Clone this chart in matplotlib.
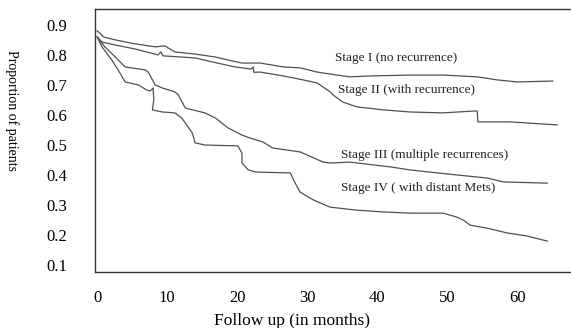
import matplotlib
matplotlib.use("Agg")
import matplotlib.pyplot as plt

plt.rcParams['font.family'] = ['Liberation Serif', 'DejaVu Serif']

# Stage I (no recurrence)
s1_x = [0, 0.4, 0.9, 2.6, 5.4, 8.3, 9.7, 11.1, 14, 16.9, 19.3, 20.7, 23.3, 26.6, 29,
        31.4, 34.3, 36.1, 39, 44.7, 49.4, 54.3, 57.1, 60, 65.1]
s1_y = [0.88, 0.873, 0.86, 0.85, 0.837, 0.827, 0.83, 0.81, 0.803, 0.793, 0.78, 0.773,
        0.773, 0.76, 0.757, 0.743, 0.733, 0.727, 0.73, 0.733, 0.733, 0.727, 0.717, 0.71, 0.713]

# Stage II (with recurrence)
s2_x = [0, 0.7, 2.6, 5.4, 8.7, 9.1, 9.4, 14, 16.4, 19.7, 22.0, 22.3, 22.4, 23.3, 26.6,
        29.4, 31.4, 33.3, 33.7, 35.1, 37.1, 40.9, 44.7, 49.4, 53.7, 54.3, 54.4, 59, 65.7]
s2_y = [0.86, 0.843, 0.833, 0.82, 0.80, 0.81, 0.797, 0.79, 0.777, 0.76, 0.753, 0.76, 0.742,
        0.743, 0.73, 0.717, 0.707, 0.677, 0.667, 0.643, 0.627, 0.617, 0.61, 0.607, 0.613,
        0.613, 0.577, 0.577, 0.567]

# Stage III (multiple recurrences)
s3_x = [0.1, 1.1, 2.6, 4, 6.9, 7.3, 8.3, 9.3, 11.1, 11.6, 12.6, 15.4, 16.9, 18.7, 20.7,
        21.9, 23.7, 25.1, 29, 32.3, 33.3, 36.1, 41.9, 44.7, 48.6, 55.7, 58, 64.3]
s3_y = [0.857, 0.827, 0.793, 0.76, 0.75, 0.743, 0.70, 0.69, 0.677, 0.667, 0.623, 0.607,
        0.59, 0.557, 0.533, 0.523, 0.51, 0.49, 0.477, 0.443, 0.44, 0.443, 0.427, 0.417,
        0.407, 0.39, 0.377, 0.373]

# Stage IV (with distant Mets)
s4_x = [0, 0.7, 2.1, 3, 4, 5.9, 7.1, 7.6, 8, 8.1, 7.9, 9.3, 11.1, 12.1, 13.6, 14, 15.4,
        20.1, 20.7, 20.7, 21.6, 22.6, 27.6, 28.3, 29, 30.9, 33.3, 37.1, 40.9, 44.7, 49.4,
        51.4, 52.3, 53.3, 55.7, 58.6, 61.4, 64.3]
s4_y = [0.86, 0.827, 0.783, 0.75, 0.71, 0.70, 0.683, 0.68, 0.69, 0.65, 0.617, 0.61, 0.607,
        0.59, 0.54, 0.507, 0.50, 0.497, 0.473, 0.44, 0.417, 0.41, 0.407, 0.373, 0.343,
        0.317, 0.293, 0.283, 0.277, 0.273, 0.273, 0.26, 0.25, 0.233, 0.223, 0.207, 0.197,
        0.18]

labels = ["Stage I (no recurrence)", "Stage II (with recurrence)",
          "Stage III (multiple recurrences)", "Stage IV ( with distant Mets)"]
label_x = [34.0, 34.4, 34.9, 34.9]
label_y = [0.79, 0.683, 0.467, 0.357]

x_ticks = [0, 10, 20, 30, 40, 50, 60]
y_ticks = [0.1, 0.2, 0.3, 0.4, 0.5, 0.6, 0.7, 0.8, 0.9]

fig = plt.figure(figsize=(5.71, 3.28), dpi=100)
ax = fig.add_axes([95/571, 1 - 272/328, 1 - 95/571, (272 - 9)/328])

color = '#505050'
for xs, ys in [(s1_x, s1_y), (s2_x, s2_y), (s3_x, s3_y), (s4_x, s4_y)]:
    ax.plot(xs, ys, color=color, lw=0.9)

for t, x, y in zip(labels, label_x, label_y):
    ax.text(x, y, t, fontsize=9.5, va='center', ha='left', color='#222222')

ax.set_xlim(-0.3, 67.7)
ax.set_ylim(0.077, 0.953)
ax.set_xticks(x_ticks)
ax.set_yticks(y_ticks)
ax.set_yticklabels([f"{v:.1f}" for v in y_ticks])
ax.tick_params(length=0, labelsize=12)
ax.tick_params(axis='y', pad=20)
ax.tick_params(axis='x', pad=13)
ax.spines['right'].set_visible(False)
for s in ['left', 'top', 'bottom']:
    ax.spines[s].set_color('#333333')
    ax.spines[s].set_linewidth(1.0)

ax.set_xlabel("Follow up (in months)", fontsize=12.5, labelpad=2)
ax.xaxis.set_label_coords((292 - 95) / 476, -0.155)
fig.text(12/571, 1 - 110/328, "Proportion of patients", rotation=270,
         fontsize=10, ha='center', va='center')

fig.savefig("out.png", dpi=100)
